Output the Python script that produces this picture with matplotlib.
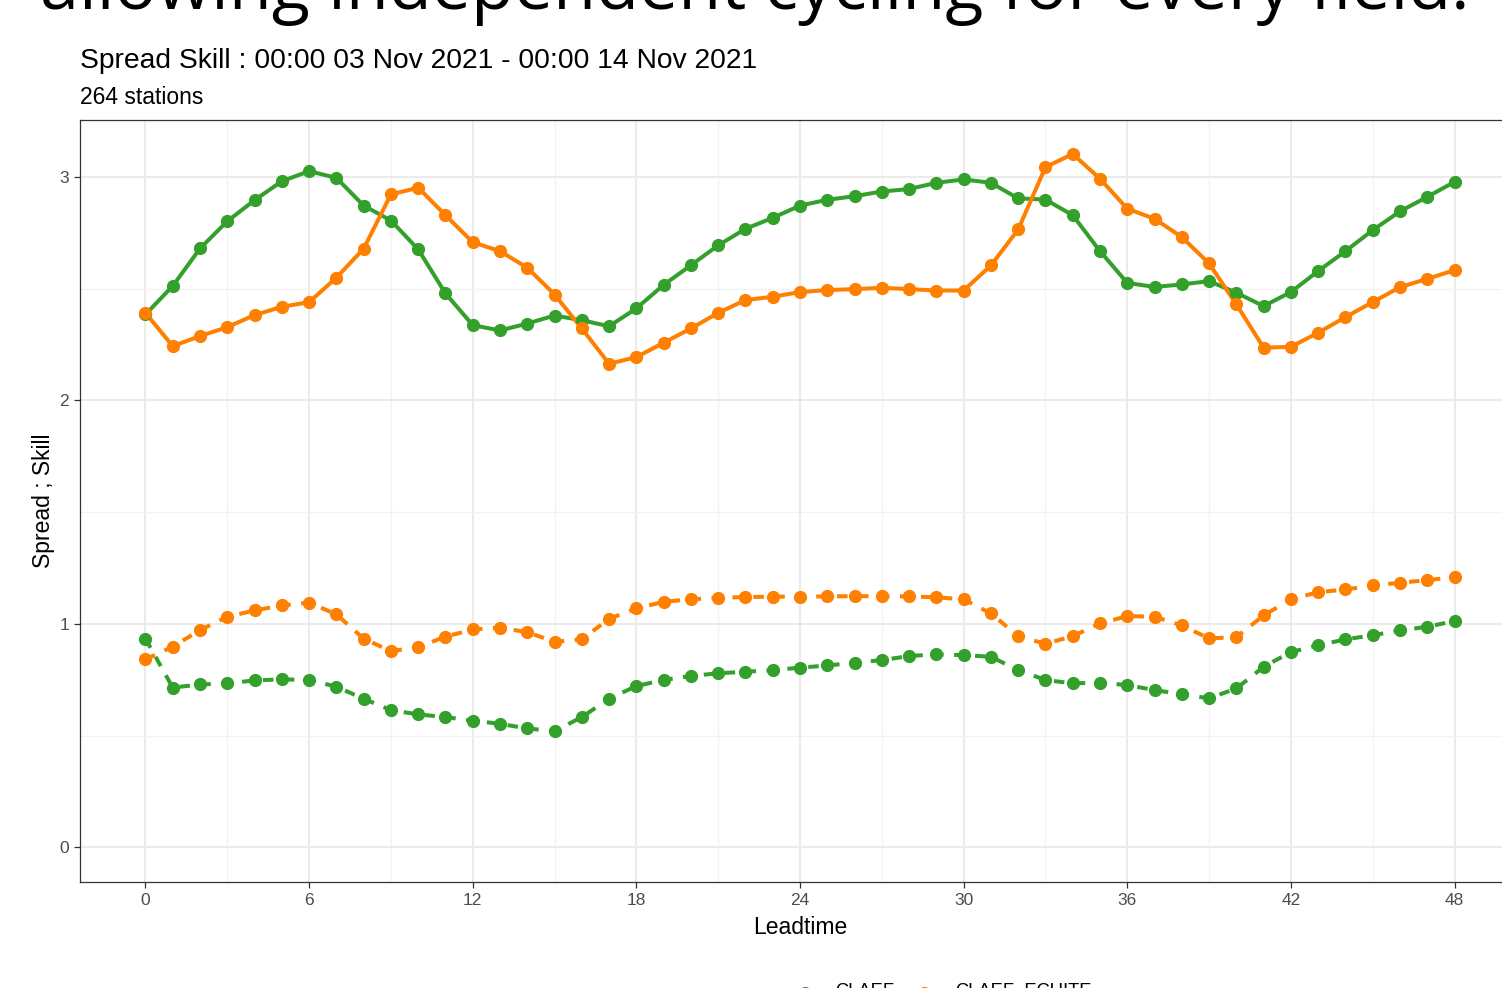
import matplotlib
matplotlib.use("Agg")
import matplotlib.pyplot as plt
from matplotlib.lines import Line2D
import numpy as np

# Leadtime (hours) and the four curves
leadtime = list(range(49))

claef_skill = [2.385, 2.512, 2.680, 2.802, 2.896, 2.981, 3.026, 2.996, 2.872, 2.805,
               2.676, 2.479, 2.337, 2.313, 2.344, 2.380, 2.359, 2.332, 2.412, 2.517,
               2.605, 2.694, 2.768, 2.817, 2.872, 2.898, 2.914, 2.935, 2.946, 2.974,
               2.989, 2.974, 2.904, 2.899, 2.829, 2.668, 2.526, 2.508, 2.519, 2.534,
               2.482, 2.422, 2.485, 2.579, 2.668, 2.762, 2.846, 2.911, 2.978]
ecuite_skill = [2.392, 2.243, 2.288, 2.328, 2.382, 2.419, 2.440, 2.549, 2.679, 2.922,
                2.952, 2.829, 2.708, 2.668, 2.594, 2.474, 2.322, 2.164, 2.194, 2.258,
                2.322, 2.392, 2.449, 2.464, 2.485, 2.494, 2.498, 2.504, 2.498, 2.492,
                2.492, 2.604, 2.765, 3.044, 3.103, 2.992, 2.858, 2.813, 2.731, 2.613,
                2.430, 2.236, 2.240, 2.303, 2.373, 2.440, 2.507, 2.544, 2.583]
claef_spread = [0.934, 0.715, 0.729, 0.734, 0.747, 0.752, 0.749, 0.719, 0.665, 0.614,
                0.595, 0.583, 0.567, 0.553, 0.532, 0.520, 0.583, 0.665, 0.722, 0.749,
                0.767, 0.779, 0.786, 0.793, 0.804, 0.814, 0.826, 0.838, 0.856, 0.864,
                0.860, 0.853, 0.793, 0.749, 0.734, 0.737, 0.726, 0.704, 0.685, 0.667,
                0.711, 0.808, 0.874, 0.904, 0.931, 0.949, 0.971, 0.987, 1.013]
ecuite_spread = [0.841, 0.898, 0.972, 1.032, 1.060, 1.083, 1.095, 1.043, 0.934, 0.878,
                 0.896, 0.943, 0.975, 0.983, 0.963, 0.920, 0.931, 1.023, 1.069, 1.099,
                 1.110, 1.117, 1.120, 1.122, 1.122, 1.123, 1.124, 1.124, 1.123, 1.119,
                 1.110, 1.047, 0.945, 0.911, 0.945, 1.002, 1.035, 1.032, 0.993, 0.935,
                 0.941, 1.038, 1.110, 1.142, 1.154, 1.172, 1.184, 1.196, 1.209]

models = ["CLAEF", "CLAEF_ECUITE"]
colours = {"CLAEF": "#33A02C", "CLAEF_ECUITE": "#FF7F00"}
xticks = [0, 6, 12, 18, 24, 30, 36, 42, 48]
yticks = [0, 1, 2, 3]

W, H = 1502, 988
fig = plt.figure(figsize=(W / 100, H / 100), dpi=100)
fig.patch.set_facecolor("white")

# panel runs past the right edge of the cropped screenshot
ax = fig.add_axes([80 / W, 1 - 882 / H, 1440 / W, 762 / H])
ax.set_xlim(-2.4, 50.4)
ax.set_ylim(-0.155, 3.255)

series = [(claef_skill, "CLAEF", "-"), (ecuite_skill, "CLAEF_ECUITE", "-"),
          (claef_spread, "CLAEF", (0, (2.6, 2.6))), (ecuite_spread, "CLAEF_ECUITE", (0, (2.6, 2.6)))]
for vals, model, ls in series:
    ax.plot(leadtime, vals, color=colours[model], lw=2.9, ls=ls, zorder=3,
            solid_capstyle="butt", dash_capstyle="butt")
    ax.plot(leadtime, vals, ls="none", marker="o", ms=8.5, color=colours[model], zorder=4)

ax.set_xticks(xticks)
ax.set_yticks(yticks)
ax.set_xticks([3, 9, 15, 21, 27, 33, 39, 45], minor=True)
ax.set_yticks([0.5, 1.5, 2.5], minor=True)
ax.grid(which="major", color="#EBEBEB", lw=1.5, zorder=0)
ax.grid(which="minor", color="#F2F2F2", lw=0.9, zorder=0)
ax.set_axisbelow(True)
for s in ax.spines.values():
    s.set_color("#333333")
    s.set_linewidth(0.9)
ax.tick_params(which="major", length=4, width=0.9, color="#333333",
               labelsize=12.5, labelcolor="#4D4D4D", pad=4)
ax.tick_params(which="minor", length=0)
for lab in ax.get_xticklabels() + ax.get_yticklabels():
    lab.set_fontfamily("Liberation Sans")

ax.set_xlabel("Leadtime", fontsize=16.5, family="Liberation Sans", labelpad=6)
ax.set_ylabel("Spread ; Skill", fontsize=16.5, family="Liberation Sans", labelpad=3)

fig.text(80 / W, 1 - 68 / H, "Spread Skill : 00:00 03 Nov 2021 - 00:00 14 Nov 2021",
         fontsize=20.3, family="Liberation Sans", va="baseline", ha="left")
fig.text(80 / W, 1 - 104 / H, "264 stations", fontsize=16.5, family="Liberation Sans",
         va="baseline", ha="left")

# slide text cut off at the top of the screenshot
fig.text(40 / W, 1 - 9 / H, "allowing independent cycling for every field.",
         fontsize=50.5, family="Open Sans", va="baseline", ha="left")

# legend cut off at the bottom of the screenshot
for mx, tx, model in [(805, 835, "CLAEF"), (924, 955, "CLAEF_ECUITE")]:
    fig.add_artist(Line2D([mx / W], [1 - 993 / H], marker="o", ms=8.5, ls="none",
                          color=colours[model], transform=fig.transFigure))
    fig.text(tx / W, 1 - 996 / H, model, fontsize=13.2, family="Liberation Sans",
             va="baseline", ha="left")

fig.savefig("out.png", dpi=100)
